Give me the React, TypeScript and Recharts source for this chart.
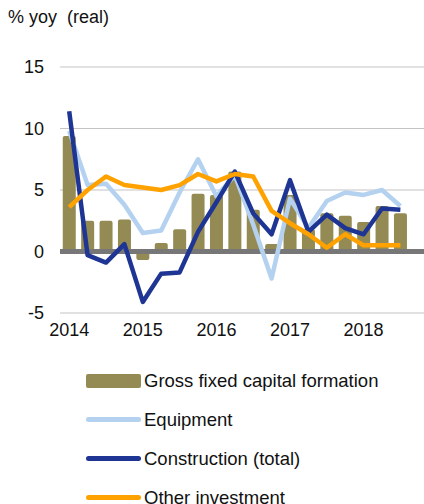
import React from 'react';
import {
  ComposedChart, Bar, Line, XAxis, YAxis, CartesianGrid, ReferenceLine
} from 'recharts';

const quarters = [
  '2014Q1', '2014Q2', '2014Q3', '2014Q4',
  '2015Q1', '2015Q2', '2015Q3', '2015Q4',
  '2016Q1', '2016Q2', '2016Q3', '2016Q4',
  '2017Q1', '2017Q2', '2017Q3', '2017Q4',
  '2018Q1', '2018Q2', '2018Q3', '2018Q4',
];

const gfcf = [9.4, 2.5, 2.5, 2.6, -0.7, 0.7, 1.8, 4.7, 4.6, 6.5, 3.4, 0.6, 4.6, 1.8, 3.1, 2.9, 2.4, 3.7, 3.1, null];
const equipment = [9.8, 5.4, 5.5, 3.8, 1.5, 1.7, 4.8, 7.5, 4.5, 6.2, 2.2, -2.2, 4.3, 1.9, 4.1, 4.8, 4.6, 5.0, 3.7, null];
const construction = [11.4, -0.3, -0.9, 0.6, -4.1, -1.8, -1.7, 1.6, 4.0, 6.5, 3.1, 1.4, 5.8, 1.6, 3.0, 1.9, 1.4, 3.5, 3.4, null];
const other = [3.6, 5.0, 6.1, 5.4, 5.2, 5.0, 5.4, 6.3, 5.7, 6.3, 6.1, 3.3, 2.3, 1.4, 0.3, 1.4, 0.5, 0.5, 0.5, null];

const yTicks = [-5, 0, 5, 10, 15];

const COLORS = {
  gfcf: '#948a54',
  equipment: '#b4d2f0',
  construction: '#1f3593',
  other: '#ffa200',
};

const FONT = '"Liberation Sans", Arial, sans-serif';

const data = quarters.map((q, i) => ({
  q,
  gfcf: gfcf[i],
  equipment: equipment[i],
  construction: construction[i],
  other: other[i],
}));

const legendItems = [
  { label: 'Gross fixed capital formation', color: COLORS.gfcf, bar: true },
  { label: 'Equipment', color: COLORS.equipment, bar: false },
  { label: 'Construction (total)', color: COLORS.construction, bar: false },
  { label: 'Other investment', color: COLORS.other, bar: false },
];

export default function App() {
  return (
    <div style={{ position: 'absolute', left: 0, top: 0, width: 424, height: 504, overflow: 'hidden', background: '#fff', fontFamily: FONT }}>
      <div style={{ position: 'absolute', left: 8, top: 7, fontSize: 18, color: '#111' }}>% yoy&nbsp; (real)</div>
      <div style={{ position: 'absolute', left: 0, top: 0 }}>
        <ComposedChart
          width={432}
          height={350}
          data={data}
          margin={{ top: 67, right: 4, bottom: 6, left: 0 }}
          barCategoryGap="15%"
        >
          <CartesianGrid vertical={false} stroke="#c4c4c4" strokeWidth={1.2} />
          <XAxis
            dataKey="q"
            axisLine={false}
            tickLine={false}
            interval={3}
            tickMargin={4}
            height={31}
            tick={{ fill: '#111', fontSize: 18, fontFamily: FONT }}
            tickFormatter={(v: string) => (v.endsWith('Q1') ? v.slice(0, 4) : '')}
          />
          <YAxis
            domain={[-5, 15]}
            ticks={yTicks}
            axisLine={false}
            tickLine={false}
            width={60}
            tickMargin={10}
            tick={{ fill: '#111', fontSize: 18, fontFamily: FONT }}
          />
          <Bar dataKey="gfcf" fill={COLORS.gfcf} radius={2} isAnimationActive={false} />
          <ReferenceLine y={0} stroke="#777777" strokeWidth={5} />
          <Line dataKey="equipment" stroke={COLORS.equipment} strokeWidth={4.5} dot={false} strokeLinejoin="round" isAnimationActive={false} />
          <Line dataKey="construction" stroke={COLORS.construction} strokeWidth={4.5} dot={false} strokeLinejoin="round" isAnimationActive={false} />
          <Line dataKey="other" stroke={COLORS.other} strokeWidth={4.5} dot={false} strokeLinejoin="round" isAnimationActive={false} />
        </ComposedChart>
      </div>
      <div style={{ position: 'absolute', left: 86, top: 361 }}>
        {legendItems.map((it) => (
          <div key={it.label} style={{ display: 'flex', alignItems: 'center', height: 39 }}>
            <div
              style={{
                width: 55,
                height: it.bar ? 14 : 5,
                borderRadius: it.bar ? 2 : 3,
                background: it.color,
                marginRight: 3,
              }}
            />
            <span style={{ fontSize: 18.5, color: '#111', whiteSpace: 'nowrap' }}>{it.label}</span>
          </div>
        ))}
      </div>
    </div>
  );
}
